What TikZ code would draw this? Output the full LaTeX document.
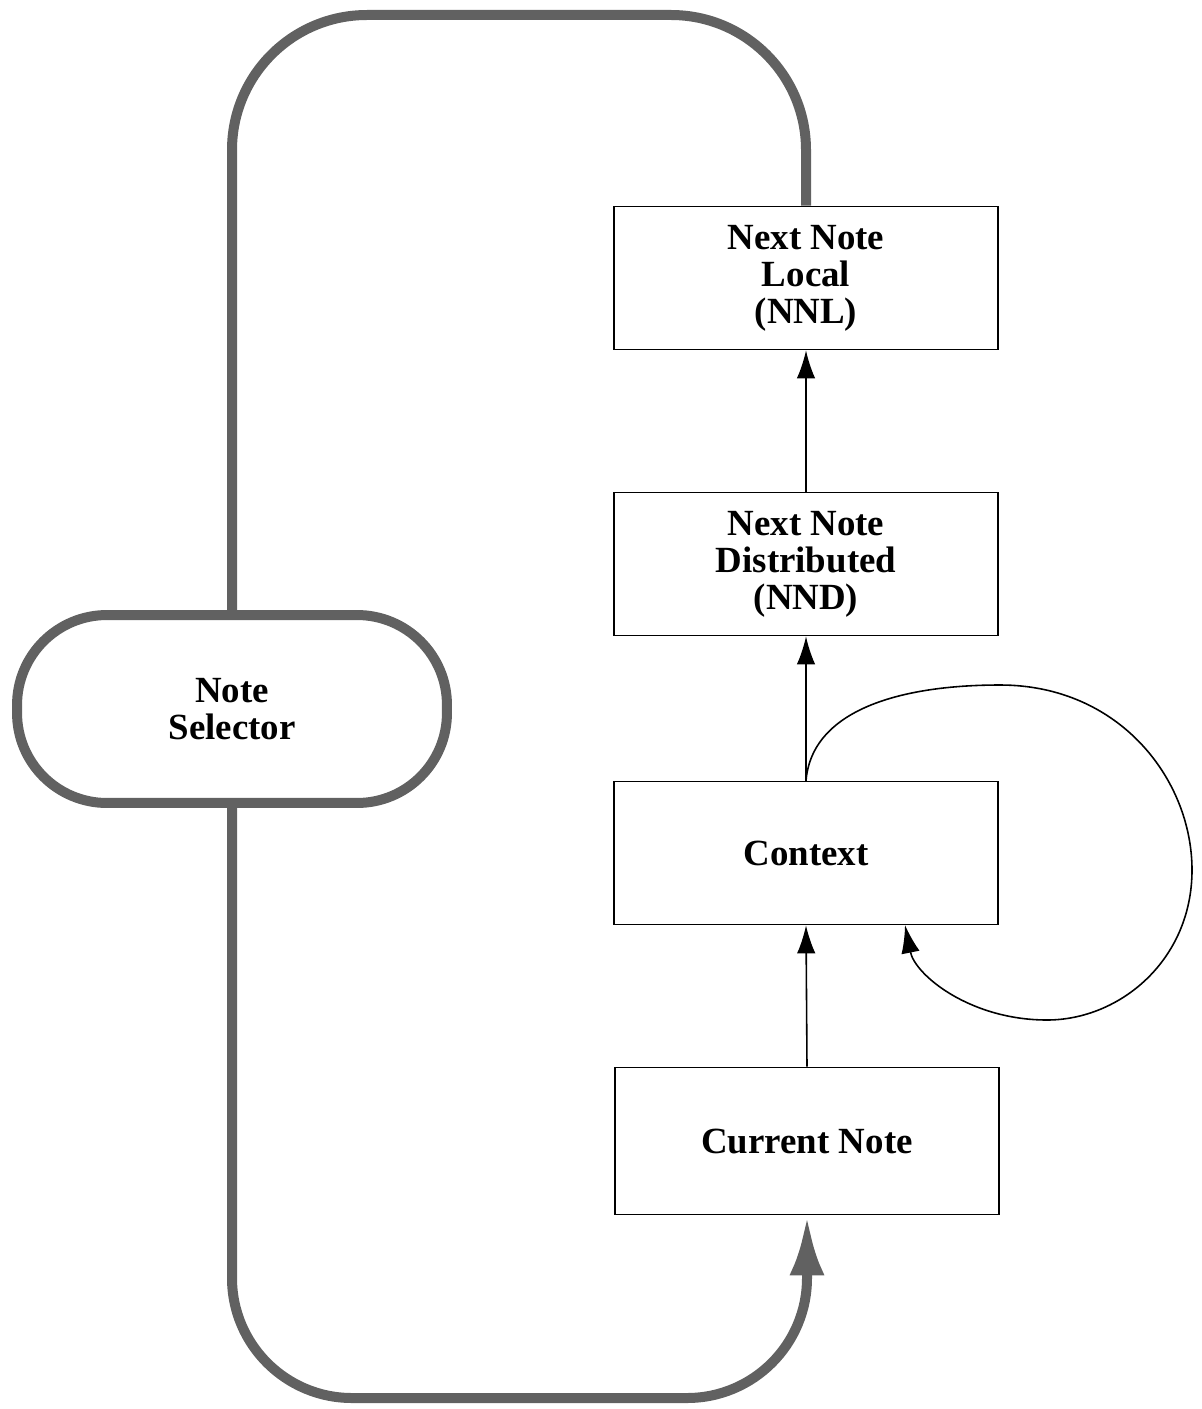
\documentclass[tikz,border=0pt]{standalone}
\usepackage{fontspec}
\setmainfont{Liberation Serif}
\usetikzlibrary{arrows.meta, calc, positioning}

\definecolor{loopGray}{gray}{0.38}
\tikzset{
  boxNode/.style = {draw, line width=1pt, minimum width=7.68cm, minimum height=2.86cm,
    align=center, font=\fontsize{21}{21}\selectfont\bfseries},
  selectorNode/.style = {draw=loopGray, line width=0.2cm, rounded corners=1.8cm,
    minimum width=8.6cm, minimum height=3.76cm, align=center,
    font=\fontsize{21}{21}\selectfont\bfseries},
  thinArrow/.style = {line width=0.9pt, -{Latex[length=0.56cm, width=0.37cm]}},
  thickLine/.style = {draw=loopGray, line width=0.2cm}
}

\begin{document}
\begin{tikzpicture}[x=0.02cm, y=-0.02cm]
  \useasboundingbox (0,0) rectangle (1201,1409);

  \node[boxNode] (nnl) at (806,278) {Next Note\\Local\\(NNL)};
  \node[boxNode] (nnd) at (806,564) {Next Note\\Distributed\\(NND)};
  \node[boxNode] (context) at (806,853) {Context};
  \node[boxNode, minimum height=2.94cm] (currentNote) at (807,1141) {Current Note};
  \node[selectorNode] (selector) at (232,709) {Note\\Selector};

  \coordinate (topTurn) at (806,15);
  \coordinate (bottomTurn) at (807,1398);
  \coordinate (loopEnd) at (905,925);

  % feedback loop through the selector
  \draw[thickLine, rounded corners=2.7cm] (selector.north) |- (topTurn) -- (nnl.north);
  \draw[thickLine, rounded corners=2.4cm, -{Latex[length=1.2cm, width=0.7cm]}]
    (selector.south) |- (bottomTurn) -- (currentNote.south);

  \draw[thinArrow] (currentNote.north) -- (context.south);
  \draw[thinArrow] (context.north) -- (nnd.south);
  \draw[thinArrow] (nnd.north) -- (nnl.south);

  % context feeds back on itself
  \draw[thinArrow] (context.north) .. controls (812,710) and (900,685) .. (1000,685)
    .. controls (1120,685) and (1192,780) .. (1192,870)
    .. controls (1192,960) and (1120,1020) .. (1047,1020)
    .. controls (970,1020) and (915,975) .. (loopEnd);
\end{tikzpicture}
\end{document}
